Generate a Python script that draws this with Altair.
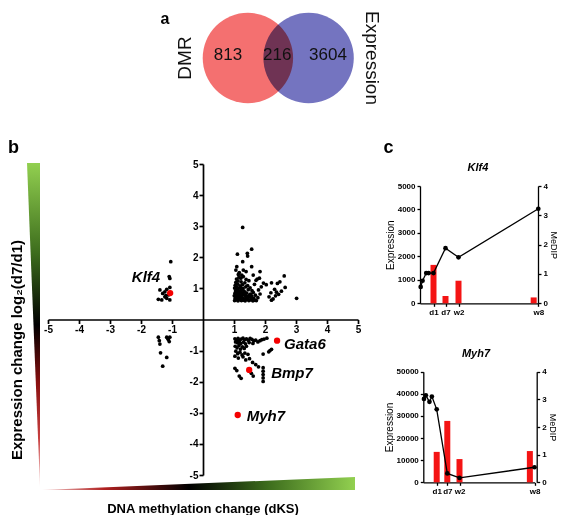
import altair as alt
import pandas as pd

FONT = "Liberation Sans"
W, H = 551, 507

# ---------------- data ----------------
VENN_SETS = ["DMR", "Expression"]
VENN_COUNTS = [813, 216, 3604]          # DMR only, both, Expression only

POINTS = [
    (1.02,0.61),(1.08,0.63),(1.13,0.60),(1.19,0.64),(1.24,0.61),(1.31,0.62),(1.36,0.60),(1.42,0.64),(1.48,0.61),(1.55,0.63),(1.61,0.60),(1.67,0.62),(1.72,0.61),
    (1.04,0.68),(1.10,0.70),(1.16,0.67),(1.21,0.71),(1.27,0.69),(1.33,0.66),(1.39,0.70),(1.45,0.68),(1.52,0.72),(1.58,0.67),(1.64,0.69),
    (1.01,0.76),(1.06,0.79),(1.12,0.74),(1.18,0.78),(1.25,0.75),(1.30,0.80),(1.37,0.77),(1.43,0.74),(1.50,0.79),(1.57,0.76),(1.69,0.78),
    (1.03,0.84),(1.09,0.87),(1.15,0.82),(1.22,0.86),(1.28,0.83),(1.35,0.88),(1.41,0.85),(1.53,0.82),(1.62,0.87),
    (1.05,0.92),(1.11,0.95),(1.17,0.90),(1.24,0.94),(1.32,0.91),(1.46,0.96),(1.58,0.93),
    (1.02,1.01),(1.08,1.04),(1.14,0.99),(1.21,1.03),(1.29,1.00),(1.38,1.05),(1.52,1.02),
    (1.04,1.10),(1.12,1.14),(1.19,1.08),(1.27,1.12),(1.44,1.09),(1.66,1.13),
    (1.06,1.19),(1.13,1.24),(1.23,1.21),(1.35,1.18),(1.71,1.26),
    (1.08,1.30),(1.16,1.36),(1.22,1.33),(1.30,1.38),(1.39,1.29),(1.82,1.33),
    (1.28,2.96),(1.57,2.26),(1.11,2.10),(1.43,2.13),(1.44,2.04),(1.28,1.86),(1.09,1.70),(1.06,1.59),(1.57,1.70),
    (1.30,1.59),(1.39,1.54),(1.84,1.54),(1.17,1.51),(1.25,1.43),(1.62,1.43),(1.14,1.45),(1.75,1.30),(1.48,1.25),
    (2.21,1.18),(2.40,1.16),(2.62,1.40),(2.65,1.03),(2.48,1.21),(2.31,0.97),(2.53,0.91),(2.19,0.86),(2.37,0.88),
    (2.13,0.73),(2.26,0.66),(2.34,0.76),(2.21,0.62),(2.44,0.81),(3.02,0.68),(1.95,1.17),(1.88,1.05),(2.04,1.12),
    (1.79,0.95),(1.77,0.70),(1.84,0.82),
    (1.03,-0.62),(1.08,-0.66),(1.13,-0.61),(1.18,-0.68),(1.23,-0.63),(1.29,-0.60),(1.34,-0.65),(1.40,-0.62),(1.46,-0.67),
    (1.52,-0.61),(1.58,-0.64),(1.64,-0.69),(1.70,-0.66),(1.77,-0.72),(1.84,-0.68),(1.90,-0.65),(1.97,-0.63),(2.06,-0.60),
    (1.05,-0.72),(1.11,-0.75),(1.16,-0.70),(1.22,-0.77),(1.31,-0.73),(1.37,-0.78),(1.49,-0.74),(1.61,-0.77),
    (1.04,-0.86),(1.10,-0.91),(1.16,-0.84),(1.21,-0.95),(1.27,-0.88),(1.33,-0.93),(1.40,-0.86),(1.06,-1.02),(1.12,-1.10),
    (1.19,-1.05),(1.26,-1.14),(1.35,-1.08),(1.45,-1.12),(1.03,-1.18),(1.14,-1.24),(1.29,-1.20),(1.38,-1.30),(1.50,-1.26),
    (1.60,-1.38),(1.70,-1.45),
    (2.16,-1.00),(2.21,-0.96),(1.94,-1.11),(2.12,-1.04),
    (1.03,-1.57),(1.09,-1.64),(1.17,-1.82),(1.23,-1.89),(1.62,-1.82),(1.79,-1.52),(1.94,-1.55),(1.94,-1.66),(1.94,-1.77),
    (1.94,-1.88),(1.94,-1.99),(1.56,-1.73),
    (-1.04,1.86),(-1.09,1.38),(-1.07,1.32),(-1.07,1.03),(-1.39,0.95),(-1.23,0.89),(-1.30,0.84),(-1.17,0.97),(-1.44,0.65),
    (-1.33,0.63),(-1.17,0.68),(-1.07,0.63),(-1.23,0.73),(-1.12,0.79),(-1.20,0.77),
    (-1.44,-0.57),(-1.41,-0.68),(-1.39,-0.79),(-1.17,-0.57),(-1.12,-0.64),(-1.07,-0.57),(-1.09,-0.71),(-1.37,-1.07),
    (-1.17,-1.22),(-1.30,-1.50),(-1.14,-0.60),
]
GENES = ["Klf4", "Gata6", "Bmp7", "Myh7"]
GENE_DKS = [-1.06, 2.39, 1.49, 1.12]
GENE_LOG2FC = [0.85, -0.68, -1.62, -3.07]
AXIS_TICKS = [-5, -4, -3, -2, -1, 1, 2, 3, 4, 5]

SAMPLE_DAYS = [0.05, 0.19, 0.46, 0.64, 1, 7, 14, 56]
KLF4_EXPR = [700, 960, 1290, 1290, 1290, 2350, 1960, 4030]
MYH7_EXPR = [37700, 39300, 36400, 38800, 33000, 4000, 2000, 6800]
MEDIP_DAYS = [1, 7, 14, 56]
TIME_LABELS = ["d1", "d7", "w2", "w8"]
KLF4_MEDIP = [1.31, 0.25, 0.77, 0.20]
MYH7_MEDIP = [1.10, 2.22, 0.84, 1.13]

# ---------------- styles / layout ----------------
VENN_RED, VENN_BLUE = "#f47070", "#7474c0"
BAR_RED, DOT_RED = "#f41414", "#f40000"


def S(domain, rng):
    return alt.Scale(domain=domain, range=rng, nice=False, zero=False)


VX, VY = S([-2, 2], [168.25, 372.25]), S([-1, 1], [101, -1])
BX, BY = S([-5, 5], [40, 350]), S([-5, 5], [467, 156])
KX = S([0, 1, 7, 14, 56], [412, 425.5, 437.5, 450.5, 530.3])
MX = S([0, 1, 7, 14, 56], [415.3, 428.7, 439.3, 451.5, 526.5])
KY1, KY2 = S([0, 5000], [295.3, 178]), S([0, 4], [295.3, 178])
MY1, MY2 = S([0, 50000], [474.3, 363.7]), S([0, 4], [474.3, 363.7])

AX = dict(grid=False, domainColor="black", tickColor="black", labelColor="black",
          labelFont=FONT, labelFontWeight="bold", labelFlush=False, labelOverlap=False)


def axis(orient, offset, values, fs, lw, ts, **kw):
    opts = dict(AX)
    opts.update(kw)
    if "title" not in opts:
        opts["title"] = None
    return alt.Axis(orient=orient, offset=offset, values=values, labelFontSize=fs,
                    domainWidth=lw, tickWidth=lw, tickSize=ts, **opts)


def label(text, x, y, size, weight="bold", style="normal", angle=0, align="center", baseline="middle"):
    return alt.Chart(pd.DataFrame({"t": [text]})).mark_text(
        font=FONT, fontSize=size, fontWeight=weight, fontStyle=style, angle=angle,
        align=align, baseline=baseline, color="black").encode(
        text="t:N", x=alt.value(x), y=alt.value(y))


layers = []

# ---------------- panel a : Venn ----------------
venn = pd.DataFrame({"set": VENN_SETS, "cx": [-0.595, 0.595], "cy": [0, 0]})
layers.append(alt.Chart(venn).mark_circle(size=8171, opacity=1, blend="multiply").encode(
    x=alt.X("cx:Q", scale=VX, axis=None), y=alt.Y("cy:Q", scale=VY, axis=None),
    color=alt.Color("set:N", scale=alt.Scale(domain=VENN_SETS, range=[VENN_RED, VENN_BLUE]), legend=None)))
counts = pd.DataFrame({"n": VENN_COUNTS, "cx": [-0.985, -0.02, 0.975], "cy": [0.05, 0.05, 0.05]})
layers.append(alt.Chart(counts).mark_text(font=FONT, fontSize=17, color="#111111", baseline="middle").encode(
    x=alt.X("cx:Q", scale=VX, axis=None), y=alt.Y("cy:Q", scale=VY, axis=None), text="n:Q"))
for name, cx, ang in [(VENN_SETS[0], -1.83, 270), (VENN_SETS[1], 1.84, 90)]:
    layers.append(alt.Chart(pd.DataFrame({"t": [name], "cx": [cx], "cy": [0]})).mark_text(
        font=FONT, fontSize=19, angle=ang, baseline="middle", color="#111111").encode(
        x=alt.X("cx:Q", scale=VX, axis=None), y=alt.Y("cy:Q", scale=VY, axis=None), text="t:N"))

# ---------------- panel b : gradient wedges ----------------
hwedge = pd.DataFrame({"u": [0, 1], "lo": [0, 0], "hi": [0, 1]})
layers.append(alt.Chart(hwedge).mark_area(color=alt.Gradient(
    gradient="linear", x1=0, x2=1, y1=0, y2=0,
    stops=[alt.GradientStop(color="#f6d0d0", offset=0), alt.GradientStop(color="#b02020", offset=0.2),
           alt.GradientStop(color="#000000", offset=0.47), alt.GradientStop(color="#3c6c1c", offset=0.72),
           alt.GradientStop(color="#92d050", offset=1)])).encode(
    x=alt.X("u:Q", scale=S([0, 1], [34, 347]), axis=None),
    y=alt.Y("hi:Q", scale=S([0, 1], [482, 469]), axis=None), y2="lo:Q"))
vwedge = pd.DataFrame({"v": [0, 1], "lo": [1, 0], "hi": [1, 1]})
layers.append(alt.Chart(vwedge).mark_area(orient="horizontal", color=alt.Gradient(
    gradient="linear", x1=0, x2=0, y1=0, y2=1,
    stops=[alt.GradientStop(color="#92d050", offset=0), alt.GradientStop(color="#3c6c1c", offset=0.28),
           alt.GradientStop(color="#000000", offset=0.5), alt.GradientStop(color="#8a1010", offset=0.68),
           alt.GradientStop(color="#c84040", offset=0.85), alt.GradientStop(color="#f8e0e0", offset=1)])).encode(
    y=alt.Y("v:Q", scale=S([0, 1], [479, 155]), axis=None),
    x=alt.X("lo:Q", scale=S([0, 1], [19, 32]), axis=None), x2="hi:Q"))

# ---------------- panel b : scatter ----------------
pts = pd.DataFrame({"dks": [p[0] for p in POINTS], "fc": [p[1] for p in POINTS]})
layers.append(alt.Chart(pts).mark_circle(size=14, color="black", opacity=1).encode(
    x=alt.X("dks:Q", scale=BX, axis=axis("bottom", -195.5, AXIS_TICKS, 10, 1.7, 4, labelPadding=1,
                                          labelExpr="datum.value")),
    y=alt.Y("fc:Q", scale=BY, axis=axis("left", -195, AXIS_TICKS, 10, 1.7, 4, labelPadding=1,
                                         labelExpr="datum.value"))))
genes = pd.DataFrame({"gene": GENES, "dks": GENE_DKS, "fc": GENE_LOG2FC})
layers.append(alt.Chart(genes).mark_circle(size=40, color=DOT_RED, opacity=1).encode(
    x=alt.X("dks:Q", scale=BX, axis=None), y=alt.Y("fc:Q", scale=BY, axis=None)))
GENE_LABEL_STYLE = {"Klf4": ("right", -10, -16), "Gata6": ("left", 7, 3),
                    "Bmp7": ("left", 22, 3), "Myh7": ("left", 9, 1)}
for g in GENES:
    al, dx, dy = GENE_LABEL_STYLE[g]
    layers.append(alt.Chart(genes).transform_filter(alt.datum.gene == g).mark_text(
        font=FONT, fontSize=15, fontWeight="bold", fontStyle="italic", align=al, dx=dx, dy=dy,
        baseline="middle", color="black").encode(
        x=alt.X("dks:Q", scale=BX, axis=None), y=alt.Y("fc:Q", scale=BY, axis=None), text="gene:N"))

# ---------------- panel c ----------------
label_expr = " : ".join(f"datum.value == {d} ? '{l}'" for d, l in zip(MEDIP_DAYS[:-1], TIME_LABELS[:-1])) + f" : '{TIME_LABELS[-1]}'"


def timecourse(expr, medip, X, Y1, Y2, xoff, loff, roff, yvals):
    ex = pd.DataFrame({"day": SAMPLE_DAYS, "expr": expr})
    me = pd.DataFrame({"day": MEDIP_DAYS, "medip": medip})
    return [
        alt.Chart(me).mark_bar(color=BAR_RED, size=6, orient="vertical").encode(
            x=alt.X("day:Q", scale=X, axis=None),
            y=alt.Y("medip:Q", scale=Y2, axis=axis("right", roff, [0, 1, 2, 3, 4], 8, 1.3, 3, labelPadding=2,
                                                    title="MeDIP", titleFont=FONT, titleFontSize=9,
                                                    titleFontWeight="normal", titleColor="black", titlePadding=1))),
        alt.Chart(ex).mark_line(color="black", strokeWidth=1.3).encode(
            x=alt.X("day:Q", scale=X, axis=axis("bottom", xoff, MEDIP_DAYS, 8, 1.3, 3, labelPadding=2,
                                                 labelExpr=label_expr)),
            y=alt.Y("expr:Q", scale=Y1, axis=axis("left", loff, yvals, 8, 1.3, 3, labelPadding=2, format="d",
                                                   title="Expression", titleFont=FONT, titleFontSize=10,
                                                   titleFontWeight="normal", titleColor="black", titlePadding=2))),
        alt.Chart(ex).mark_circle(color="black", size=22, opacity=1).encode(
            x=alt.X("day:Q", scale=X, axis=None), y=alt.Y("expr:Q", scale=Y1, axis=None)),
    ]


layers += timecourse(KLF4_EXPR, KLF4_MEDIP, KX, KY1, KY2, -211.7, -412, -21,
                     [0, 1000, 2000, 3000, 4000, 5000])
layers += timecourse(MYH7_EXPR, MYH7_MEDIP, MX, MY1, MY2, -32.7, -415.3, -22.3,
                     [0, 10000, 20000, 30000, 40000, 50000])

# ---------------- titles / letters ----------------
layers += [
    label("a", 157, 3, 16, baseline="top"),
    label("b", 0, 145, 18, align="left", baseline="alphabetic"),
    label("c", 380.5, 145, 18, baseline="alphabetic"),
    label("Expression change log\u2082(d7/d1)", 8.5, 342, 15, angle=270),
    label("DNA methylation change (dKS)", 195, 501, 13),
    label("Klf4", 470, 160, 11, style="italic"),
    label("Myh7", 468, 346, 11, style="italic"),
]

chart = alt.layer(*layers).resolve_scale(x="independent", y="independent", color="independent").properties(
    width=W, height=H, padding=0, autosize=alt.AutoSizeParams(type="none")
).configure_view(stroke="transparent")

chart.save("out.html", embed_options={"renderer": "svg", "actions": False})
